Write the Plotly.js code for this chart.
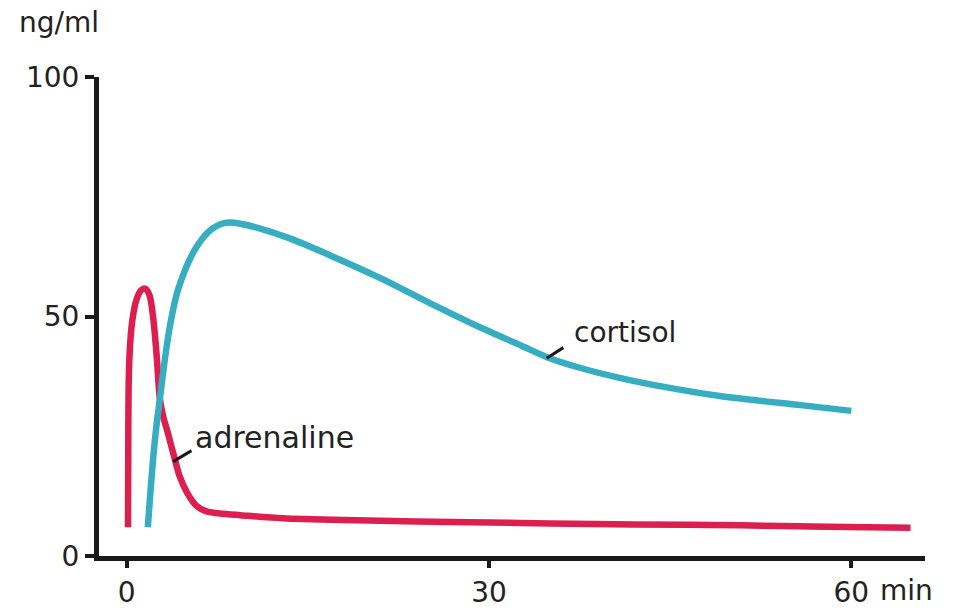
<!DOCTYPE html>
<html>
<head>
<meta charset="utf-8">
<script src="https://cdn.plot.ly/plotly-3.0.1.min.js"></script>
<style>html,body{margin:0;padding:0;background:#fff;}#chart{width:957px;height:608px;}</style>
</head>
<body>
<div id="chart"></div>
<script>
// Adrenaline (red) concentration, ng/ml, vs time in minutes
const adrenalineTime = [0.1, 0.12, 0.15, 0.25, 0.45, 0.8, 1.2, 1.55, 1.9, 2.15, 2.3, 2.5, 2.73, 3.0, 3.4, 4.0, 4.4, 5.0, 5.8, 6.6, 8, 10, 12.9, 18, 24, 30, 35, 42, 50.8, 58, 64.9];
const adrenalineValue = [6, 20, 35, 43, 49, 53.5, 55.5, 55.8, 54.3, 50.5, 47, 41, 33, 29.3, 25.7, 20, 16.5, 13.2, 10.4, 9.3, 8.8, 8.4, 7.9, 7.5, 7.2, 7.0, 6.8, 6.6, 6.4, 6.1, 5.9];
// Cortisol (teal) concentration
const cortisolTime = [1.74, 1.95, 2.17, 2.45, 2.73, 3.15, 3.56, 4.1, 4.6, 5.1, 5.6, 6.3, 7.0, 7.8, 8.5, 9.5, 10.7, 13.5, 16.8, 21, 25.1, 29.2, 32.6, 34.8, 37.5, 40.8, 44.5, 49.1, 55.8, 60];
const cortisolValue = [6, 13, 20, 27, 32.6, 41, 47.8, 54.3, 58.2, 61.3, 63.8, 66.4, 68.2, 69.3, 69.6, 69.3, 68.6, 66.3, 62.8, 58, 52.8, 47.8, 44, 41.5, 39.3, 37.2, 35.3, 33.4, 31.5, 30.3];

const xTickVals = [0, 30, 60];
const xTickText = ['0', '30', '60'];
const yTickVals = [0, 50, 100];
const yTickText = ['0', '50', '100'];

const seriesNames = ['adrenaline', 'cortisol'];
// label anchors (data coords) and pointer segments
const labelX = [5.47, 36.87];
const labelY = [24.8, 46.6];
const labelSize = [30, 28];
const pointerX0 = [3.84, 34.77];
const pointerY0 = [19.7, 41.3];
const pointerX1 = [5.36, 36.15];
const pointerY1 = [22.0, 43.5];

const colors = ['#dc1f4e', '#37adc1'];
const FONT = 'DejaVu Sans, Liberation Sans, sans-serif';
const TXT = '#222222';

const traces = [
  {x: adrenalineTime, y: adrenalineValue, name: seriesNames[0], type: 'scatter', mode: 'lines',
   line: {color: colors[0], width: 6.5, shape: 'spline', smoothing: 0.8}, hoverinfo: 'skip'},
  {x: cortisolTime, y: cortisolValue, name: seriesNames[1], type: 'scatter', mode: 'lines',
   line: {color: colors[1], width: 6.5, shape: 'spline', smoothing: 0.8}, hoverinfo: 'skip'}
];

const annotations = seriesNames.map((n, i) => ({
  x: labelX[i], y: labelY[i], xref: 'x', yref: 'y', text: n, showarrow: false,
  xanchor: 'left', yanchor: 'middle', font: {family: FONT, size: labelSize[i], color: TXT}
}));
annotations.push({x: -0.0993, y: 1.113, xref: 'paper', yref: 'paper', text: 'ng/ml', showarrow: false,
  xanchor: 'left', yanchor: 'middle', font: {family: FONT, size: 28, color: TXT}});
annotations.push({x: 62.2, y: -0.072, xref: 'x', yref: 'paper', text: 'min', showarrow: false,
  xanchor: 'left', yanchor: 'middle', font: {family: FONT, size: 28, color: TXT}});

const shapes = seriesNames.map((n, i) => ({
  type: 'line', xref: 'x', yref: 'y', x0: pointerX0[i], y0: pointerY0[i], x1: pointerX1[i], y1: pointerY1[i],
  line: {color: '#1a1a1a', width: 3}
}));

const layout = {
  width: 957, height: 608,
  margin: {l: 99, r: 32, t: 77, b: 52},
  paper_bgcolor: '#ffffff', plot_bgcolor: '#ffffff',
  showlegend: false,
  xaxis: {range: [-2.3, 66.1], showgrid: false, zeroline: false, showline: true, linecolor: '#1a1a1a', linewidth: 5,
    ticks: 'outside', ticklen: 7, tickwidth: 4, tickcolor: '#1a1a1a',
    tickvals: xTickVals, ticktext: xTickText, tickfont: {family: FONT, size: 28, color: TXT}, ticklabelstandoff: 0},
  yaxis: {range: [0, 100], showgrid: false, zeroline: false, showline: true, linecolor: '#1a1a1a', linewidth: 5,
    ticks: 'outside', ticklen: 9, tickwidth: 4, tickcolor: '#1a1a1a',
    tickvals: yTickVals, ticktext: yTickText, tickfont: {family: FONT, size: 28, color: TXT}, ticklabelstandoff: 0},
  annotations: annotations,
  shapes: shapes
};

Plotly.newPlot('chart', traces, layout, {staticPlot: true, displayModeBar: false});
</script>
</body>
</html>
